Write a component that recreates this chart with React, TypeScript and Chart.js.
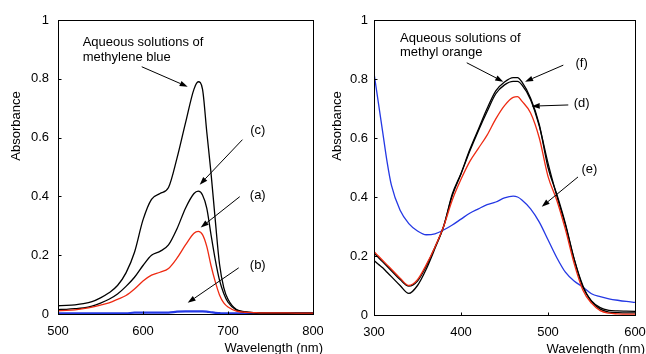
import React, { useEffect, useRef } from "react";
import { Chart, registerables } from "chart.js";

Chart.register(...registerables);

const FONT = "'Liberation Sans', Arial, Helvetica, sans-serif";
const RED = "#ee2a12";
const BLUE = "#2438e4";

// ---- Left panel: methylene blue ----
const mbWavelengths = [500, 510, 520, 530, 540, 550, 560, 570, 580, 590, 600, 610, 620, 630, 640, 650, 660, 665, 670, 675, 680, 685, 690, 695, 700, 710, 720, 730, 740, 760, 780, 800];
const mbAqueous = [0.028, 0.029, 0.031, 0.035, 0.042, 0.055, 0.072, 0.097, 0.14, 0.21, 0.32, 0.39, 0.41, 0.43, 0.53, 0.65, 0.765, 0.79, 0.765, 0.62, 0.48, 0.32, 0.17, 0.09, 0.05, 0.015, 0.008, 0.005, 0.004, 0.003, 0.003, 0.003];
const mbC = [0.015, 0.016, 0.018, 0.021, 0.027, 0.037, 0.05, 0.068, 0.094, 0.125, 0.165, 0.2, 0.213, 0.235, 0.29, 0.36, 0.41, 0.418, 0.405, 0.36, 0.27, 0.185, 0.115, 0.07, 0.04, 0.013, 0.006, 0.004, 0.003, 0.003, 0.003, 0.003];
const mbA = [0.011, 0.012, 0.014, 0.018, 0.023, 0.03, 0.038, 0.05, 0.063, 0.085, 0.112, 0.132, 0.142, 0.155, 0.19, 0.235, 0.275, 0.281, 0.27, 0.23, 0.165, 0.11, 0.065, 0.038, 0.024, 0.01, 0.006, 0.005, 0.004, 0.004, 0.003, 0.003];
const mbB = [0.002, 0.002, 0.002, 0.002, 0.002, 0.002, 0.002, 0.002, 0.002, 0.005, 0.005, 0.005, 0.005, 0.005, 0.008, 0.009, 0.009, 0.009, 0.009, 0.008, 0.006, 0.004, 0.003, 0.002, 0.002, 0.002, 0.002, 0.002, 0.002, 0.002, 0.002, 0.002];

// ---- Right panel: methyl orange ----
const moWavelengths = [300, 305, 310, 315, 320, 330, 340, 350, 360, 370, 380, 390, 400, 410, 420, 430, 440, 450, 460, 465, 470, 480, 490, 500, 510, 520, 530, 540, 550, 560, 570, 580, 590, 600];
const moAqueous = [0.21, 0.195, 0.18, 0.165, 0.15, 0.12, 0.098, 0.115, 0.165, 0.23, 0.3, 0.41, 0.48, 0.56, 0.63, 0.7, 0.76, 0.79, 0.805, 0.805, 0.79, 0.735, 0.645, 0.5, 0.41, 0.31, 0.19, 0.095, 0.048, 0.025, 0.016, 0.014, 0.013, 0.012];
const moF = [0.185, 0.172, 0.16, 0.145, 0.13, 0.1, 0.073, 0.1, 0.155, 0.225, 0.3, 0.405, 0.478, 0.555, 0.625, 0.69, 0.75, 0.78, 0.792, 0.792, 0.78, 0.73, 0.64, 0.515, 0.405, 0.305, 0.19, 0.1, 0.045, 0.02, 0.01, 0.008, 0.007, 0.007];
const moD = [0.215, 0.2, 0.185, 0.17, 0.155, 0.125, 0.1, 0.12, 0.17, 0.23, 0.3, 0.39, 0.46, 0.52, 0.565, 0.61, 0.665, 0.71, 0.738, 0.74, 0.725, 0.685, 0.6, 0.47, 0.39, 0.29, 0.175, 0.085, 0.04, 0.015, 0.006, 0.004, 0.003, 0.003];
const moE = [0.82, 0.72, 0.62, 0.52, 0.44, 0.355, 0.31, 0.285, 0.272, 0.275, 0.288, 0.305, 0.325, 0.345, 0.36, 0.374, 0.383, 0.397, 0.403, 0.4, 0.39, 0.36, 0.315, 0.255, 0.195, 0.145, 0.115, 0.095, 0.072, 0.062, 0.055, 0.05, 0.046, 0.043];

const yTickValues = [0, 0.2, 0.4, 0.6, 0.8, 1];
const xTitle = "Wavelength (nm)";
const yTitle = "Absorbance";

type Note = {
  lines: string[];
  x: number;
  y: number;
  align: "left" | "center";
  from: [number, number];
  to: [number, number];
};

const mbNotes: Note[] = [
  { lines: ["Aqueous solutions of", "methylene blue"], x: 529, y: 0.923, align: "left", from: [598.5, 0.841], to: [652.6, 0.773] },
  { lines: ["(c)"], x: 735, y: 0.623, align: "center", from: [717, 0.593], to: [666.7, 0.44] },
  { lines: ["(a)"], x: 735, y: 0.402, align: "center", from: [713.8, 0.399], to: [667.9, 0.294] },
  { lines: ["(b)"], x: 735, y: 0.164, align: "center", from: [712.6, 0.157], to: [652.6, 0.038] },
];

const moNotes: Note[] = [
  { lines: ["Aqueous solutions of", "methyl orange"], x: 329.9, y: 0.939, align: "left", from: [406.6, 0.855], to: [448.6, 0.791] },
  { lines: ["(f)"], x: 538.7, y: 0.853, align: "center", from: [517.6, 0.847], to: [473.6, 0.791] },
  { lines: ["(d)"], x: 538.7, y: 0.718, align: "center", from: [523.3, 0.712], to: [481.3, 0.708] },
  { lines: ["(e)"], x: 547.5, y: 0.492, align: "center", from: [534.5, 0.468], to: [492.8, 0.367] },
];

function pts(xs: number[], ys: number[]) {
  return xs.map((x, i) => ({ x, y: ys[i] }));
}

function makeDecor(notes: Note[], yTitleX: number) {
  return {
    id: "decor",
    afterDatasetsDraw(chart: any) {
      const { ctx, chartArea, scales } = chart;
      const { left, right, top, bottom } = chartArea;
      const sx = scales.x;
      const sy = scales.y;
      ctx.save();
      ctx.strokeStyle = "#000";
      ctx.fillStyle = "#000";
      ctx.lineWidth = 1;
      const L = Math.round(left) + 0.5;
      const R = Math.round(right) + 0.5;
      const T = Math.round(top) + 0.5;
      const B = Math.round(bottom) + 0.5;
      ctx.strokeRect(L, T, R - L, B - T);
      // inner ticks
      ctx.beginPath();
      sx.ticks.forEach((t: any) => {
        const px = Math.round(sx.getPixelForValue(t.value)) + 0.5;
        ctx.moveTo(px, B);
        ctx.lineTo(px, B - 3);
      });
      sy.ticks.forEach((t: any) => {
        const py = Math.round(sy.getPixelForValue(t.value)) + 0.5;
        ctx.moveTo(L, py);
        ctx.lineTo(L + 3, py);
      });
      ctx.stroke();

      ctx.font = `13px ${FONT}`;
      ctx.textBaseline = "middle";
      notes.forEach((n) => {
        ctx.textAlign = n.align;
        const x0 = sx.getPixelForValue(n.x);
        const y0 = sy.getPixelForValue(n.y);
        n.lines.forEach((line, i) => ctx.fillText(line, x0, y0 + i * 14.5));
        const x1 = sx.getPixelForValue(n.from[0]);
        const y1 = sy.getPixelForValue(n.from[1]);
        const x2 = sx.getPixelForValue(n.to[0]);
        const y2 = sy.getPixelForValue(n.to[1]);
        const ang = Math.atan2(y2 - y1, x2 - x1);
        const hl = 8;
        const hw = 2.8;
        const bx = x2 - hl * Math.cos(ang);
        const by = y2 - hl * Math.sin(ang);
        ctx.beginPath();
        ctx.moveTo(x1, y1);
        ctx.lineTo(bx, by);
        ctx.stroke();
        ctx.beginPath();
        ctx.moveTo(x2, y2);
        ctx.lineTo(bx + hw * Math.sin(ang), by - hw * Math.cos(ang));
        ctx.lineTo(bx - hw * Math.sin(ang), by + hw * Math.cos(ang));
        ctx.closePath();
        ctx.fill();
      });

      // axis titles
      ctx.textAlign = "right";
      ctx.textBaseline = "middle";
      ctx.fillText(xTitle, right + 10, bottom + 34);
      ctx.save();
      ctx.translate(yTitleX, 126);
      ctx.rotate(-Math.PI / 2);
      ctx.textAlign = "center";
      ctx.fillText(yTitle, 0, 0);
      ctx.restore();
      ctx.restore();
    },
  };
}

type PanelProps = {
  datasets: any[];
  xMin: number;
  xMax: number;
  yWidth: number;
  xHeight: number;
  padRight: number;
  yPad: number;
  yTitleX: number;
  notes: Note[];
  left: number;
};

function Panel(p: PanelProps) {
  const ref = useRef<HTMLCanvasElement | null>(null);
  useEffect(() => {
    if (!ref.current) return;
    const chart = new Chart(ref.current, {
      type: "line",
      data: { datasets: p.datasets },
      options: {
        responsive: false,
        animation: false,
        devicePixelRatio: 1,
        layout: { padding: { top: 20, right: p.padRight, left: 0, bottom: 0 } },
        plugins: { legend: { display: false }, tooltip: { enabled: false } },
        elements: { point: { radius: 0 }, line: { cubicInterpolationMode: "monotone" } },
        scales: {
          x: {
            type: "linear",
            min: p.xMin,
            max: p.xMax,
            grid: { display: false, drawTicks: false },
            border: { display: false },
            afterBuildTicks: (s: any) => {
              const t = [];
              for (let v = p.xMin; v <= p.xMax; v += 100) t.push({ value: v });
              s.ticks = t;
            },
            afterFit: (s: any) => {
              s.height = p.xHeight;
              s.paddingRight = p.padRight;
              s.paddingLeft = 0;
            },
            ticks: { color: "#000", font: { family: FONT, size: 13 }, padding: 10, maxRotation: 0 },
          },
          y: {
            type: "linear",
            min: 0,
            max: 1,
            grid: { display: false, drawTicks: false },
            border: { display: false },
            afterBuildTicks: (s: any) => {
              s.ticks = yTickValues.map((v) => ({ value: v }));
            },
            afterFit: (s: any) => {
              s.width = p.yWidth;
            },
            ticks: {
              color: "#000",
              font: { family: FONT, size: 13 },
              padding: p.yPad,
              callback: (v: any) => String(Math.round(Number(v) * 10) / 10),
            },
          },
        },
      },
      plugins: [makeDecor(p.notes, p.yTitleX)],
    });
    return () => chart.destroy();
  }, []);
  return (
    <div style={{ position: "absolute", left: p.left, top: 0, width: 323, height: 354 }}>
      <canvas ref={ref} width={323} height={354} style={{ display: "block" }} />
    </div>
  );
}

const line = (data: any, color: string, width = 1.3) => ({
  data,
  borderColor: color,
  backgroundColor: color,
  borderWidth: width,
  pointRadius: 0,
  fill: false,
});

export default function App() {
  const leftSets = [
    line(pts(mbWavelengths, mbA), RED),
    line(pts(mbWavelengths, mbAqueous), "#000"),
    line(pts(mbWavelengths, mbC), "#000"),
    line(pts(mbWavelengths, mbB), BLUE, 2.2),
  ];
  const rightSets = [
    line(pts(moWavelengths, moD), RED),
    line(pts(moWavelengths, moAqueous), "#000"),
    line(pts(moWavelengths, moF), "#000"),
    line(pts(moWavelengths, moE), BLUE),
  ];
  return (
    <div style={{ position: "fixed", left: 0, top: 0, width: 646, height: 354, background: "#fff" }}>
      <Panel datasets={leftSets} xMin={500} xMax={800} yWidth={58} xHeight={40} padRight={10} yPad={9} yTitleX={16} notes={mbNotes} left={0} />
      <Panel datasets={rightSets} xMin={300} xMax={600} yWidth={51} xHeight={39} padRight={11} yPad={6} yTitleX={14} notes={moNotes} left={323} />
    </div>
  );
}
